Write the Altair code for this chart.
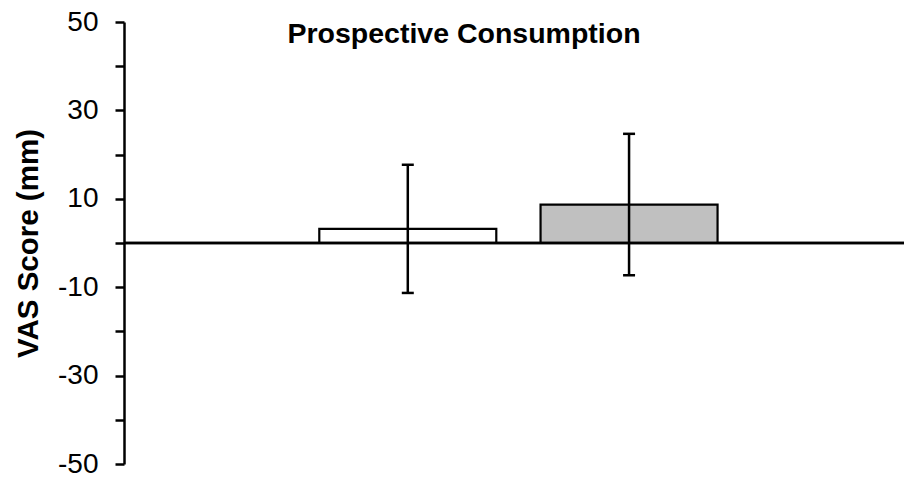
import altair as alt
import pandas as pd

# Group means and error (± mm) on the VAS scale
groups = ["Condition A", "Condition B"]
positions = [1, 2]
means = [3.2, 8.7]
errors = [14.5, 16.0]
fills = ["#FFFFFF", "#C0C0C0"]

y_ticks = [-50, -40, -30, -20, -10, 0, 10, 20, 30, 40, 50]
chart_title = ["Prospective Consumption"]

df = pd.DataFrame({
    "group": groups,
    "pos": positions,
    "mean": means,
    "err": errors,
    "fill": fills,
})

FONT = "Liberation Sans"

x_enc = alt.X("pos:Q", scale=alt.Scale(domain=[-0.26, 3.22], nice=False, zero=False), axis=None)
y_scale = alt.Scale(domain=[-50, 50], nice=False)

base = alt.Chart(df).transform_calculate(
    lo="datum.mean - datum.err",
    hi="datum.mean + datum.err",
)

bars = base.mark_bar(size=177, stroke="black", strokeWidth=2.2).encode(
    x=x_enc,
    y=alt.Y(
        "mean:Q",
        scale=y_scale,
        axis=alt.Axis(
            values=y_ticks,
            labelExpr="abs(datum.value) % 20 == 10 ? toString(datum.value) : ''",
            title="VAS Score (mm)",
            titleFont=FONT,
            titleFontSize=29.5,
            titleFontWeight="bold",
            titleColor="black",
            titleX=-87,
            titleY=221,
            titleBaseline="alphabetic",
            labelFont=FONT,
            labelFontSize=28,
            labelColor="black",
            labelPadding=17,
            domainColor="black",
            domainWidth=2.5,
            tickColor="black",
            tickWidth=2.5,
            tickSize=9,
            grid=False,
        ),
    ),
    y2=alt.datum(0),
    fill=alt.Fill("fill:N", scale=None),
)

zero_line = alt.Chart(df).mark_rule(color="black", strokeWidth=2.5).encode(
    y=alt.datum(0, scale=y_scale)
)

whisker = base.mark_rule(color="black", strokeWidth=2.5).encode(
    x=x_enc,
    y=alt.Y("lo:Q", scale=y_scale),
    y2="hi:Q",
)

cap_lo = base.mark_tick(orient="horizontal", size=12, thickness=2.5, color="black", opacity=1).encode(
    x=x_enc, y=alt.Y("lo:Q", scale=y_scale)
)
cap_hi = base.mark_tick(orient="horizontal", size=12, thickness=2.5, color="black", opacity=1).encode(
    x=x_enc, y=alt.Y("hi:Q", scale=y_scale)
)

# Panel heading drawn inside the plot area, near the top
heading = alt.Chart(pd.DataFrame({"t": chart_title})).mark_text(
    font=FONT, fontSize=28.5, fontWeight="bold", color="black",
    align="center", baseline="alphabetic",
).encode(text="t:N", x=alt.value(340), y=alt.value(21))

chart = alt.layer(bars, zero_line, whisker, cap_lo, cap_hi, heading).properties(
    width=780,
    height=442,
    autosize=alt.AutoSizeParams(type="none"),
    padding={"left": 124, "top": 22, "right": 0, "bottom": 16},
).configure(background="white").configure_view(stroke=None)

chart.save("out.html", embed_options={"renderer": "svg", "actions": False})
